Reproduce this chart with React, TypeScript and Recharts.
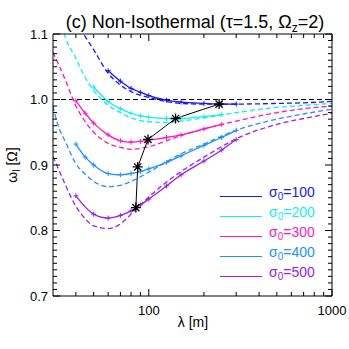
import React from 'react';
import { LineChart, Line, XAxis, YAxis, ReferenceLine, Legend } from 'recharts';

// sigma_0 values and colours of the five cases
const sigmaValues = [100, 200, 300, 400, 500];
const seriesColors = ['#1818f2', '#10f0f0', '#ff18c0', '#2090ff', '#9a20e6'];

// solid curves (with + markers)
const lambdaSolid100 = [60, 70, 80, 90, 100, 125, 150, 200, 250, 300];
const omegaSolid100 = [1.044, 1.028, 1.017, 1.011, 1.006, 0.999, 0.996, 0.994, 0.993, 0.993];
const lambdaSolid200 = [50, 60, 70, 80, 90, 100, 125, 150, 200, 250];
const omegaSolid200 = [1.019, 0.997, 0.986, 0.979, 0.975, 0.973, 0.971, 0.971, 0.974, 0.977];
const lambdaSolid300 = [40, 45, 50, 60, 70, 80, 90, 100, 125, 150, 200, 250];
const omegaSolid300 = [0.998, 0.979, 0.964, 0.946, 0.937, 0.935, 0.936, 0.938, 0.942, 0.946, 0.955, 0.962];
const lambdaSolid400 = [40, 45, 50, 60, 70, 80, 90, 100, 125, 150, 200, 250, 300];
const omegaSolid400 = [0.932, 0.912, 0.9, 0.887, 0.885, 0.887, 0.89, 0.894, 0.904, 0.914, 0.93, 0.942, 0.953];
const lambdaSolid500 = [40, 50, 60, 70, 80, 90, 100, 125, 150, 200, 250, 300];
const omegaSolid500 = [0.853, 0.825, 0.819, 0.823, 0.83, 0.839, 0.848, 0.868, 0.885, 0.906, 0.923, 0.939];

// dashed curves, all on one wavelength grid
const lambdaDashed = [30, 32, 35, 40, 45, 50, 60, 70, 80, 100, 125, 150, 200, 300, 500, 700, 1000];
const omegaDashed100 = [1.21, 1.18, 1.155, 1.122, 1.096, 1.076, 1.04, 1.022, 1.012, 1.003, 0.997, 0.994, 0.993, 0.993, 0.994, 0.995, 0.997];
const omegaDashed200 = [1.16, 1.135, 1.095, 1.063, 1.033, 1.014, 0.991, 0.98, 0.972, 0.966, 0.965, 0.967, 0.972, 0.98, 0.988, 0.991, 0.994];
const omegaDashed300 = [1.072, 1.055, 1.03, 0.99, 0.966, 0.95, 0.933, 0.927, 0.924, 0.928, 0.937, 0.945, 0.955, 0.967, 0.98, 0.986, 0.99];
const omegaDashed400 = [0.99, 0.96, 0.936, 0.902, 0.886, 0.875, 0.867, 0.869, 0.875, 0.889, 0.905, 0.917, 0.932, 0.953, 0.97, 0.978, 0.985];
const omegaDashed500 = [0.913, 0.895, 0.87, 0.837, 0.818, 0.807, 0.803, 0.81, 0.825, 0.851, 0.874, 0.89, 0.912, 0.94, 0.962, 0.971, 0.979];

// connecting line of the asterisks
const lambdaStars = [85, 87, 99, 140, 242];
const omegaStars = [0.835, 0.897, 0.939, 0.971, 0.993];

// axis ticks
const xMajorTicks = [100, 1000];
const xMinorTicks = [40, 50, 60, 70, 80, 90, 200, 300, 400, 500, 600, 700, 800, 900];
const yMajorTicks = [0.7, 0.8, 0.9, 1.0, 1.1];
const yAllTicks = Array.from({ length: 41 }, (_, i) => Math.round(70 + i) / 100);
const xAllTicks = [...xMinorTicks, ...xMajorTicks].sort((a, b) => a - b);

const toPoints = (xs: number[], ys: number[]) => xs.map((x, i) => ({ x, y: ys[i] }));

const solidSets = [
  toPoints(lambdaSolid100, omegaSolid100),
  toPoints(lambdaSolid200, omegaSolid200),
  toPoints(lambdaSolid300, omegaSolid300),
  toPoints(lambdaSolid400, omegaSolid400),
  toPoints(lambdaSolid500, omegaSolid500),
];
const dashedSets = [omegaDashed100, omegaDashed200, omegaDashed300, omegaDashed400, omegaDashed500].map(
  (ys) => toPoints(lambdaDashed, ys)
);
const starData = toPoints(lambdaStars, omegaStars);

const FONT = '"Liberation Sans", Arial, Helvetica, sans-serif';
const MAJOR = 7;
const MINOR = 4;

const isMajorY = (v: number) => yMajorTicks.some((m) => Math.abs(m - v) < 1e-6);

// tick renderers: marks point into the plot, labels only on major ticks
const BottomTick = ({ x, y, payload }: any) => {
  const major = xMajorTicks.includes(payload.value);
  return (
    <g>
      <line x1={x} y1={y} x2={x} y2={y - (major ? MAJOR : MINOR)} stroke="#000" />
      {major && (
        <text x={x} y={y + 19} textAnchor="middle" fontSize={13} fontFamily={FONT} fill="#000">
          {payload.value}
        </text>
      )}
    </g>
  );
};

const TopTick = ({ x, y, payload }: any) => {
  const major = xMajorTicks.includes(payload.value);
  return <line x1={x} y1={y} x2={x} y2={y + (major ? MAJOR : MINOR)} stroke="#000" />;
};

const LeftTick = ({ x, y, payload }: any) => {
  const major = isMajorY(payload.value);
  return (
    <g>
      <line x1={x} y1={y} x2={x + (major ? MAJOR : MINOR)} y2={y} stroke="#000" />
      {major && (
        <text x={x - 5} y={y + 4.5} textAnchor="end" fontSize={13} fontFamily={FONT} fill="#000">
          {payload.value.toFixed(1)}
        </text>
      )}
    </g>
  );
};

const RightTick = ({ x, y, payload }: any) => {
  const major = isMajorY(payload.value);
  return <line x1={x} y1={y} x2={x - (major ? MAJOR : MINOR)} y2={y} stroke="#000" />;
};

const plusDot = (color: string) => (props: any) => {
  const { cx, cy, index } = props;
  return (
    <path key={index} d={`M${cx - 2.5},${cy}h5M${cx},${cy - 2.5}v5`} stroke={color} strokeWidth={1} fill="none" />
  );
};

const starDot = (props: any) => {
  const { cx, cy, index } = props;
  const r = 5;
  const d = r * 0.72;
  return (
    <path
      key={index}
      d={`M${cx - r},${cy}h${2 * r}M${cx},${cy - r}v${2 * r}M${cx - d},${cy - d}l${2 * d},${2 * d}M${cx - d},${cy + d}l${2 * d},${-2 * d}`}
      stroke="#000"
      strokeWidth={1.3}
      fill="none"
    />
  );
};

const LegendBox = () => (
  <div style={{ position: 'relative', width: 120, height: 100, fontFamily: FONT }}>
    {sigmaValues.map((s, i) => (
      <div key={s} style={{ position: 'absolute', left: 0, top: i * 20, width: 120, height: 20 }}>
        <div style={{ position: 'absolute', left: 0, top: 9.5, width: 42, height: 1.5, background: seriesColors[i] }} />
        <div
          style={{
            position: 'absolute',
            left: 49,
            top: -1,
            fontSize: 14,
            lineHeight: '14px',
            color: seriesColors[i],
            whiteSpace: 'nowrap',
          }}
        >
          σ<span style={{ fontSize: 10, position: 'relative', top: 3 }}>0</span>={s}
        </div>
      </div>
    ))}
  </div>
);

const xAxisCommon = {
  dataKey: 'x',
  type: 'number' as const,
  scale: 'log' as const,
  domain: [30, 1000],
  allowDataOverflow: true,
  ticks: xAllTicks,
  interval: 0 as const,
  height: 1,
  tickSize: 0,
  tickMargin: 0,
  tickLine: false,
  axisLine: { stroke: '#000' },
};

const yAxisCommon = {
  type: 'number' as const,
  domain: [0.7, 1.1],
  allowDataOverflow: true,
  ticks: yAllTicks,
  interval: 0 as const,
  width: 1,
  tickSize: 0,
  tickMargin: 0,
  tickLine: false,
  axisLine: { stroke: '#000' },
};

export default function App() {
  return (
    <div style={{ position: 'absolute', left: 0, top: 0, width: 349, height: 349, background: '#fff', fontFamily: FONT }}>
      <LineChart width={349} height={349} margin={{ top: 33, right: 16, bottom: 52, left: 52 }}>
        <XAxis xAxisId="bottom" {...xAxisCommon} tick={<BottomTick />} />
        <XAxis xAxisId="top" orientation="top" {...xAxisCommon} tick={<TopTick />} />
        <YAxis yAxisId="left" {...yAxisCommon} tick={<LeftTick />} />
        <YAxis yAxisId="right" orientation="right" {...yAxisCommon} tick={<RightTick />} />
        <ReferenceLine xAxisId="bottom" yAxisId="left" y={1} stroke="#000" strokeDasharray="5 3" strokeWidth={1} />
        {dashedSets.map((d, i) => (
          <Line
            key={`dash-${sigmaValues[i]}`}
            xAxisId="bottom"
            yAxisId="left"
            data={d}
            dataKey="y"
            type="monotone"
            stroke={seriesColors[i]}
            strokeWidth={1.3}
            strokeDasharray="5 3"
            dot={false}
            activeDot={false}
            isAnimationActive={false}
            legendType="none"
          />
        ))}
        {solidSets.map((d, i) => (
          <Line
            key={`solid-${sigmaValues[i]}`}
            xAxisId="bottom"
            yAxisId="left"
            data={d}
            dataKey="y"
            name={`σ0=${sigmaValues[i]}`}
            type="monotone"
            stroke={seriesColors[i]}
            strokeWidth={1.3}
            dot={plusDot(seriesColors[i])}
            activeDot={false}
            isAnimationActive={false}
          />
        ))}
        <Line
          xAxisId="top"
          yAxisId="right"
          data={starData}
          dataKey="y"
          type="linear"
          stroke="#000"
          strokeWidth={1}
          dot={starDot}
          activeDot={false}
          isAnimationActive={false}
          legendType="none"
        />
        <Legend
          layout="vertical"
          align="center"
          verticalAlign="middle"
          content={<LegendBox />}
          wrapperStyle={{ left: 220, top: 186, width: 120, height: 100 }}
        />
      </LineChart>
      <div
        style={{
          position: 'absolute',
          left: 195,
          top: 13,
          transform: 'translateX(-50%)',
          fontSize: 18,
          lineHeight: '18px',
          whiteSpace: 'nowrap',
          color: '#000',
        }}
      >
        (c) Non-Isothermal (τ=1.5, Ω<span style={{ fontSize: 12, position: 'relative', top: 4 }}>z</span>=2)
      </div>
      <div
        style={{
          position: 'absolute',
          left: 193,
          top: 315,
          transform: 'translateX(-50%)',
          fontSize: 14,
          lineHeight: '14px',
          whiteSpace: 'nowrap',
        }}
      >
        λ [m]
      </div>
      <div
        style={{
          position: 'absolute',
          left: 13,
          top: 165,
          transform: 'translate(-50%, -50%) rotate(-90deg)',
          fontSize: 14,
          lineHeight: '14px',
          whiteSpace: 'nowrap',
        }}
      >
        ω<span style={{ fontSize: 10, position: 'relative', top: 3 }}>l</span> [Ω]
      </div>
    </div>
  );
}
